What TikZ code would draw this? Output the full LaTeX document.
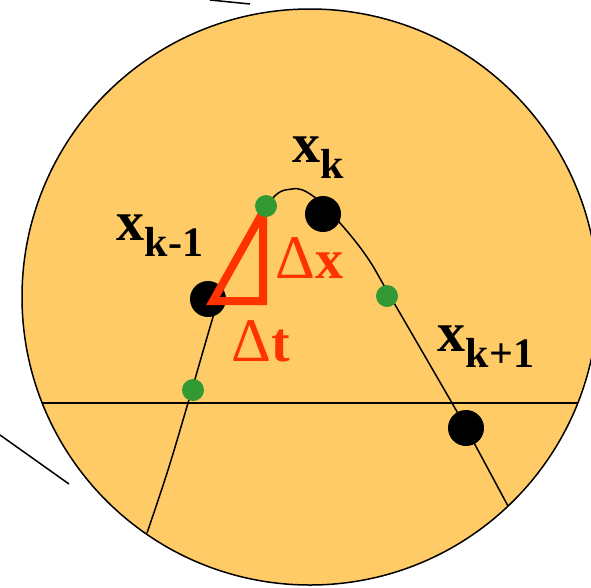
\documentclass[tikz,border=0pt]{standalone}
\usepackage{fontspec}
\setmainfont{Liberation Serif}
\definecolor{lensfill}{HTML}{FFCB66}
\definecolor{deltared}{HTML}{FF3300}
\definecolor{midgreen}{HTML}{339933}
\newcommand{\xsub}[2]{{\fontsize{56}{56}\selectfont\bfseries #1}\raisebox{-16pt}{\fontsize{42}{42}\selectfont\bfseries #2}}
\newcommand{\dlt}[1]{{\fontsize{62}{62}\selectfont Δ}{\fontsize{56}{56}\selectfont\bfseries #1}}
\tikzset{
  bigdot/.style={circle, fill=black, minimum size=36pt, inner sep=0pt},
  smalldot/.style={circle, fill=midgreen, minimum size=22pt, inner sep=0pt},
  lbl/.style={anchor=base west, inner sep=0pt}
}
\begin{document}
\begin{tikzpicture}[x=1pt, y=-1pt, line width=1.5pt]
        \useasboundingbox (0,0) rectangle (591,587);
        \clip (0,0) rectangle (591,587);

        % Lens
        \fill[lensfill] (310,297) circle (288);
        \draw (310,297) circle (288);
        \draw (0,435) -- (69,484);
        \draw (210,0) -- (250,4);

        % Axis
        \draw (42,403) -- (578,403);

        % Trajectory
        \draw plot[smooth, tension=0.6] coordinates {(147,533) (168,470) (188,403) (213,317) (224,282) (268,204) (292,189) (313,196) (340,223) (367,257) (390,296) (452,403) (466,428) (508,506)};

        % Samples
        \foreach \n/\x/\y in {xkm/208/299, xk/323/214, xkp/466/428} {
            \node[bigdot] (\n) at (\x,\y) {};
        }

        % Slope triangle
        \draw[deltared, line width=8pt] (213,301) -- (263,212) -- (263,301) -- cycle;

        % Midpoints
        \foreach \n/\x/\y in {gl/193/390, gt/266/206, gr/387/296} {
            \node[smalldot] (\n) at (\x,\y) {};
        }

        % Labels
        \node[lbl] (lxkm) at (116,240) {\xsub{x}{k-1}};
        \node[lbl] (lxk) at (292,162) {\xsub{x}{k}};
        \node[lbl] (lxkp) at (437,351) {\xsub{x}{k+1}};
        \node[lbl, text=deltared] (ldx) at (275,278) {\dlt{x}};
        \node[lbl, text=deltared] (ldt) at (231,361) {\dlt{t}};
    \end{tikzpicture}
\end{document}
